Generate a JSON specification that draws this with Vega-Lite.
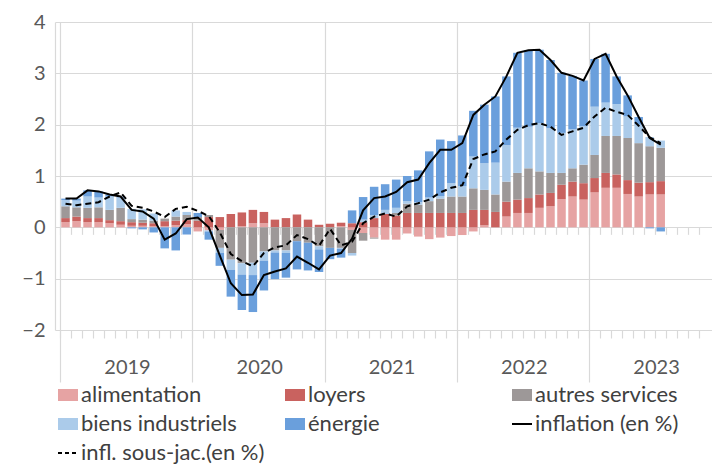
{
  "$schema": "https://vega.github.io/schema/vega-lite/v6.json",
  "width": 657,
  "height": 308,
  "autosize": "none",
  "padding": {"left": 55, "top": 22, "right": 0, "bottom": 137},
  "background": "white",
  "config": {
    "view": {"stroke": null},
    "font": "Lato",
    "axis": {"labelFont": "Lato", "labelColor": "#595959", "title": null}
  },
  "data": {
    "values": [
      {"mois": "2019-01", "i": 0, "alimentation": 0.10, "loyers": 0.08, "autres services": 0.23, "biens industriels": 0.12, "énergie": 0.03, "inflation": 0.56, "sous_jac": 0.46},
      {"mois": "2019-02", "i": 1, "alimentation": 0.12, "loyers": 0.09, "autres services": 0.18, "biens industriels": 0.13, "énergie": 0.04, "inflation": 0.56, "sous_jac": 0.43},
      {"mois": "2019-03", "i": 2, "alimentation": 0.10, "loyers": 0.08, "autres services": 0.20, "biens industriels": 0.22, "énergie": 0.12, "inflation": 0.72, "sous_jac": 0.46},
      {"mois": "2019-04", "i": 3, "alimentation": 0.10, "loyers": 0.08, "autres services": 0.21, "biens industriels": 0.19, "énergie": 0.12, "inflation": 0.70, "sous_jac": 0.49},
      {"mois": "2019-05", "i": 4, "alimentation": 0.08, "loyers": 0.06, "autres services": 0.20, "biens industriels": 0.26, "énergie": 0.04, "inflation": 0.64, "sous_jac": 0.60},
      {"mois": "2019-06", "i": 5, "alimentation": 0.05, "loyers": 0.07, "autres services": 0.26, "biens industriels": 0.20, "énergie": 0.02, "inflation": 0.60, "sous_jac": 0.68},
      {"mois": "2019-07", "i": 6, "alimentation": 0.03, "loyers": 0.07, "autres services": 0.06, "biens industriels": 0.20, "énergie": -0.02, "inflation": 0.34, "sous_jac": 0.42},
      {"mois": "2019-08", "i": 7, "alimentation": 0.03, "loyers": 0.06, "autres services": 0.06, "biens industriels": 0.20, "énergie": -0.04, "inflation": 0.31, "sous_jac": 0.38},
      {"mois": "2019-09", "i": 8, "alimentation": 0.02, "loyers": 0.06, "autres services": 0.05, "biens industriels": 0.14, "énergie": -0.10, "inflation": 0.17, "sous_jac": 0.31},
      {"mois": "2019-10", "i": 9, "alimentation": 0.02, "loyers": 0.10, "autres services": 0.05, "biens industriels": 0.00, "énergie": -0.41, "inflation": -0.24, "sous_jac": 0.20},
      {"mois": "2019-11", "i": 10, "alimentation": 0.04, "loyers": 0.09, "autres services": 0.08, "biens industriels": 0.12, "énergie": -0.45, "inflation": -0.12, "sous_jac": 0.36},
      {"mois": "2019-12", "i": 11, "alimentation": 0.06, "loyers": 0.08, "autres services": 0.10, "biens industriels": 0.06, "énergie": -0.14, "inflation": 0.16, "sous_jac": 0.40},
      {"mois": "2020-01", "i": 12, "alimentation": -0.08, "loyers": 0.13, "autres services": 0.07, "biens industriels": 0.00, "énergie": 0.08, "inflation": 0.19, "sous_jac": 0.32},
      {"mois": "2020-02", "i": 13, "alimentation": -0.06, "loyers": 0.20, "autres services": 0.04, "biens industriels": -0.02, "énergie": -0.16, "inflation": 0.00, "sous_jac": 0.22},
      {"mois": "2020-03", "i": 14, "alimentation": -0.05, "loyers": 0.20, "autres services": -0.35, "biens industriels": -0.10, "énergie": -0.25, "inflation": -0.55, "sous_jac": -0.10},
      {"mois": "2020-04", "i": 15, "alimentation": 0.00, "loyers": 0.26, "autres services": -0.63, "biens industriels": -0.20, "énergie": -0.52, "inflation": -1.09, "sous_jac": -0.52},
      {"mois": "2020-05", "i": 16, "alimentation": 0.02, "loyers": 0.27, "autres services": -0.70, "biens industriels": -0.22, "énergie": -0.69, "inflation": -1.32, "sous_jac": -0.66},
      {"mois": "2020-06", "i": 17, "alimentation": 0.08, "loyers": 0.26, "autres services": -0.69, "biens industriels": -0.24, "énergie": -0.72, "inflation": -1.31, "sous_jac": -0.76},
      {"mois": "2020-07", "i": 18, "alimentation": 0.08, "loyers": 0.22, "autres services": -0.47, "biens industriels": -0.18, "énergie": -0.58, "inflation": -0.93, "sous_jac": -0.50},
      {"mois": "2020-08", "i": 19, "alimentation": 0.00, "loyers": 0.15, "autres services": -0.45, "biens industriels": -0.04, "énergie": -0.52, "inflation": -0.86, "sous_jac": -0.39},
      {"mois": "2020-09", "i": 20, "alimentation": 0.00, "loyers": 0.18, "autres services": -0.45, "biens industriels": -0.05, "énergie": -0.48, "inflation": -0.80, "sous_jac": -0.35},
      {"mois": "2020-10", "i": 21, "alimentation": 0.00, "loyers": 0.25, "autres services": -0.27, "biens industriels": 0.00, "énergie": -0.55, "inflation": -0.57, "sous_jac": -0.15},
      {"mois": "2020-11", "i": 22, "alimentation": 0.00, "loyers": 0.15, "autres services": -0.30, "biens industriels": 0.00, "énergie": -0.54, "inflation": -0.69, "sous_jac": -0.23},
      {"mois": "2020-12", "i": 23, "alimentation": 0.00, "loyers": 0.05, "autres services": -0.37, "biens industriels": -0.06, "énergie": -0.44, "inflation": -0.82, "sous_jac": -0.36},
      {"mois": "2021-01", "i": 24, "alimentation": 0.00, "loyers": 0.07, "autres services": -0.40, "biens industriels": 0.00, "énergie": -0.22, "inflation": -0.55, "sous_jac": -0.03},
      {"mois": "2021-02", "i": 25, "alimentation": 0.02, "loyers": 0.07, "autres services": -0.40, "biens industriels": -0.02, "énergie": -0.17, "inflation": -0.50, "sous_jac": -0.35},
      {"mois": "2021-03", "i": 26, "alimentation": -0.05, "loyers": 0.08, "autres services": -0.45, "biens industriels": -0.05, "énergie": 0.25, "inflation": -0.22, "sous_jac": -0.28},
      {"mois": "2021-04", "i": 27, "alimentation": -0.11, "loyers": 0.10, "autres services": -0.15, "biens industriels": 0.05, "énergie": 0.44, "inflation": 0.33, "sous_jac": 0.08},
      {"mois": "2021-05", "i": 28, "alimentation": -0.20, "loyers": 0.18, "autres services": -0.02, "biens industriels": 0.06, "énergie": 0.55, "inflation": 0.57, "sous_jac": 0.21},
      {"mois": "2021-06", "i": 29, "alimentation": -0.24, "loyers": 0.26, "autres services": 0.00, "biens industriels": 0.08, "énergie": 0.50, "inflation": 0.60, "sous_jac": 0.27},
      {"mois": "2021-07", "i": 30, "alimentation": -0.24, "loyers": 0.23, "autres services": 0.05, "biens industriels": 0.10, "énergie": 0.55, "inflation": 0.69, "sous_jac": 0.21},
      {"mois": "2021-08", "i": 31, "alimentation": -0.12, "loyers": 0.28, "autres services": 0.18, "biens industriels": 0.05, "énergie": 0.49, "inflation": 0.88, "sous_jac": 0.41},
      {"mois": "2021-09", "i": 32, "alimentation": -0.18, "loyers": 0.28, "autres services": 0.16, "biens industriels": 0.05, "énergie": 0.62, "inflation": 0.93, "sous_jac": 0.47},
      {"mois": "2021-10", "i": 33, "alimentation": -0.23, "loyers": 0.28, "autres services": 0.23, "biens industriels": 0.07, "énergie": 0.90, "inflation": 1.25, "sous_jac": 0.54},
      {"mois": "2021-11", "i": 34, "alimentation": -0.20, "loyers": 0.28, "autres services": 0.28, "biens industriels": 0.05, "énergie": 1.10, "inflation": 1.51, "sous_jac": 0.68},
      {"mois": "2021-12", "i": 35, "alimentation": -0.17, "loyers": 0.28, "autres services": 0.32, "biens industriels": 0.26, "énergie": 0.82, "inflation": 1.51, "sous_jac": 0.77},
      {"mois": "2022-01", "i": 36, "alimentation": -0.15, "loyers": 0.28, "autres services": 0.32, "biens industriels": 0.20, "énergie": 0.99, "inflation": 1.64, "sous_jac": 0.82},
      {"mois": "2022-02", "i": 37, "alimentation": -0.08, "loyers": 0.34, "autres services": 0.42, "biens industriels": 0.62, "énergie": 0.89, "inflation": 2.19, "sous_jac": 1.33},
      {"mois": "2022-03", "i": 38, "alimentation": 0.04, "loyers": 0.30, "autres services": 0.39, "biens industriels": 0.52, "énergie": 1.14, "inflation": 2.39, "sous_jac": 1.42},
      {"mois": "2022-04", "i": 39, "alimentation": 0.00, "loyers": 0.30, "autres services": 0.34, "biens industriels": 0.62, "énergie": 1.29, "inflation": 2.55, "sous_jac": 1.48},
      {"mois": "2022-05", "i": 40, "alimentation": 0.21, "loyers": 0.29, "autres services": 0.39, "biens industriels": 0.71, "énergie": 1.34, "inflation": 2.94, "sous_jac": 1.71},
      {"mois": "2022-06", "i": 41, "alimentation": 0.28, "loyers": 0.26, "autres services": 0.52, "biens industriels": 0.88, "énergie": 1.46, "inflation": 3.40, "sous_jac": 1.90},
      {"mois": "2022-07", "i": 42, "alimentation": 0.28, "loyers": 0.29, "autres services": 0.58, "biens industriels": 0.81, "énergie": 1.49, "inflation": 3.45, "sous_jac": 1.99},
      {"mois": "2022-08", "i": 43, "alimentation": 0.38, "loyers": 0.26, "autres services": 0.45, "biens industriels": 0.94, "énergie": 1.43, "inflation": 3.46, "sous_jac": 2.03},
      {"mois": "2022-09", "i": 44, "alimentation": 0.41, "loyers": 0.26, "autres services": 0.39, "biens industriels": 0.87, "énergie": 1.33, "inflation": 3.26, "sous_jac": 1.96},
      {"mois": "2022-10", "i": 45, "alimentation": 0.55, "loyers": 0.28, "autres services": 0.23, "biens industriels": 0.78, "énergie": 1.17, "inflation": 3.01, "sous_jac": 1.80},
      {"mois": "2022-11", "i": 46, "alimentation": 0.60, "loyers": 0.29, "autres services": 0.26, "biens industriels": 0.76, "énergie": 1.04, "inflation": 2.95, "sous_jac": 1.87},
      {"mois": "2022-12", "i": 47, "alimentation": 0.54, "loyers": 0.32, "autres services": 0.36, "biens industriels": 0.75, "énergie": 0.89, "inflation": 2.86, "sous_jac": 1.94},
      {"mois": "2023-01", "i": 48, "alimentation": 0.68, "loyers": 0.28, "autres services": 0.45, "biens industriels": 0.94, "énergie": 0.93, "inflation": 3.28, "sous_jac": 2.16},
      {"mois": "2023-02", "i": 49, "alimentation": 0.77, "loyers": 0.29, "autres services": 0.72, "biens industriels": 0.65, "énergie": 0.95, "inflation": 3.38, "sous_jac": 2.33},
      {"mois": "2023-03", "i": 50, "alimentation": 0.77, "loyers": 0.26, "autres services": 0.75, "biens industriels": 0.62, "énergie": 0.54, "inflation": 2.94, "sous_jac": 2.25},
      {"mois": "2023-04", "i": 51, "alimentation": 0.65, "loyers": 0.27, "autres services": 0.82, "biens industriels": 0.42, "énergie": 0.41, "inflation": 2.57, "sous_jac": 2.19},
      {"mois": "2023-05", "i": 52, "alimentation": 0.60, "loyers": 0.27, "autres services": 0.77, "biens industriels": 0.36, "énergie": 0.15, "inflation": 2.15, "sous_jac": 1.98},
      {"mois": "2023-06", "i": 53, "alimentation": 0.64, "loyers": 0.24, "autres services": 0.70, "biens industriels": 0.18, "énergie": -0.02, "inflation": 1.74, "sous_jac": 1.75},
      {"mois": "2023-07", "i": 54, "alimentation": 0.64, "loyers": 0.26, "autres services": 0.65, "biens industriels": 0.14, "énergie": -0.08, "inflation": 1.61, "sous_jac": 1.64}
    ]
  },
  "layer": [
    {
      "transform": [
        {"fold": ["alimentation", "loyers", "autres services", "biens industriels", "énergie"], "as": ["cat", "val"]},
        {"window": [{"op": "row_number", "as": "rang"}], "groupby": ["i"]}
      ],
      "mark": {"type": "bar", "size": 8.5, "orient": "vertical"},
      "encoding": {
        "x": {
          "field": "i", "type": "quantitative",
          "scale": {"domain": [-0.5, 58.2], "nice": false, "zero": false},
          "axis": {
            "orient": "bottom",
            "values": [-0.5, 11.5, 23.5, 35.5, 47.5],
            "grid": true, "gridColor": "#d9d9d9", "gridWidth": 1.2,
            "domain": false,
            "ticks": true, "tickSize": 52, "tickColor": "#d9d9d9", "tickWidth": 1.2,
            "labelExpr": "datum.value < 0 ? '2019' : datum.value < 12 ? '2020' : datum.value < 24 ? '2021' : datum.value < 36 ? '2022' : '2023'",
            "labelOffset": 67, "labelPadding": -15, "labelBaseline": "middle", "labelAlign": "center",
            "labelFontSize": 20, "labelColor": "#595959",
            "labelOverlap": false, "labelBound": false, "labelFlush": false,
            "title": null
          }
        },
        "y": {
          "field": "val", "type": "quantitative", "stack": "zero",
          "scale": {"domain": [-2, 4], "nice": false},
          "axis": {
            "values": [-2, -1, 0, 1, 2, 3, 4],
            "grid": true, "gridColor": "#d9d9d9", "gridWidth": 1.2,
            "domain": true, "domainColor": "#d9d9d9", "domainWidth": 1.2,
            "ticks": false, "labelPadding": 10,
            "labelFontSize": 20, "labelColor": "#595959",
            "title": null
          }
        },
        "order": {"field": "rang", "type": "quantitative", "sort": "ascending"},
        "color": {
          "field": "cat", "type": "nominal",
          "scale": {
            "domain": ["alimentation", "loyers", "autres services", "biens industriels", "énergie", "inflation (en %)", "infl. sous-jac.(en %)"],
            "range": ["#e6a3a3", "#c9625f", "#9d9898", "#abcbea", "#6a9fdc", "#000000", "#000000"]
          },
          "legend": {
            "orient": "none", "legendX": 2, "legendY": 362,
            "direction": "horizontal", "columns": 3, "gridAlign": "all",
            "columnPadding": 16, "rowPadding": 7,
            "padding": 0, "offset": 0,
            "title": null,
            "symbolSize": 400, "symbolStrokeWidth": 2,
            "labelFont": "Lato", "labelFontSize": 22, "labelColor": "#404040", "labelOffset": 2, "labelLimit": 0,
            "encode": {
              "symbols": {
                "update": {
                  "shape": [
                    {"test": "datum.value === 'inflation (en %)' || datum.value === 'infl. sous-jac.(en %)'", "value": "stroke"},
                    {"value": "M-1,-0.6H1V0.6H-1Z"}
                  ],
                  "fill": [
                    {"test": "datum.value === 'inflation (en %)' || datum.value === 'infl. sous-jac.(en %)'", "value": "transparent"},
                    {"scale": "color", "field": "value"}
                  ],
                  "stroke": [
                    {"test": "datum.value === 'inflation (en %)' || datum.value === 'infl. sous-jac.(en %)'", "value": "#000000"},
                    {"value": "transparent"}
                  ],
                  "strokeWidth": {"value": 2},
                  "strokeDash": [
                    {"test": "datum.value === 'infl. sous-jac.(en %)'", "value": [4, 3]},
                    {"value": [1, 0]}
                  ],
                  "opacity": {"value": 1}
                }
              }
            }
          }
        }
      }
    },
    {
      "mark": {"type": "line", "color": "#000000", "strokeWidth": 2},
      "encoding": {
        "x": {
          "field": "i", "type": "quantitative",
          "scale": {"domain": [-0.5, 58.2], "nice": false, "zero": false},
          "axis": {
            "orient": "bottom",
            "values": [-0.5, 0.5, 1.5, 2.5, 3.5, 4.5, 5.5, 6.5, 7.5, 8.5, 9.5, 10.5, 11.5, 12.5, 13.5, 14.5, 15.5, 16.5, 17.5, 18.5, 19.5, 20.5, 21.5, 22.5, 23.5, 24.5, 25.5, 26.5, 27.5, 28.5, 29.5, 30.5, 31.5, 32.5, 33.5, 34.5, 35.5, 36.5, 37.5, 38.5, 39.5, 40.5, 41.5, 42.5, 43.5, 44.5, 45.5, 46.5, 47.5, 48.5, 49.5, 50.5, 51.5, 52.5, 53.5, 54.5, 55.5, 56.5, 57.5],
            "grid": false, "domain": false, "labels": false,
            "ticks": true, "tickSize": 8, "tickColor": "#d9d9d9", "tickWidth": 1.2,
            "title": null
          }
        },
        "y": {"field": "inflation", "type": "quantitative", "scale": {"domain": [-2, 4], "nice": false}}
      }
    },
    {
      "mark": {"type": "line", "color": "#000000", "strokeWidth": 2, "strokeDash": [6, 4]},
      "encoding": {
        "x": {
          "field": "i", "type": "quantitative",
          "scale": {"domain": [-0.5, 58.2], "nice": false, "zero": false},
          "axis": {
            "orient": "bottom", "offset": -102.67,
            "values": [-0.5, 0.5, 1.5, 2.5, 3.5, 4.5, 5.5, 6.5, 7.5, 8.5, 9.5, 10.5, 11.5, 12.5, 13.5, 14.5, 15.5, 16.5, 17.5, 18.5, 19.5, 20.5, 21.5, 22.5, 23.5, 24.5, 25.5, 26.5, 27.5, 28.5, 29.5, 30.5, 31.5, 32.5, 33.5, 34.5, 35.5, 36.5, 37.5, 38.5, 39.5, 40.5, 41.5, 42.5, 43.5, 44.5, 45.5, 46.5, 47.5, 48.5, 49.5, 50.5, 51.5, 52.5, 53.5, 54.5, 55.5, 56.5, 57.5],
            "grid": false, "domain": false, "labels": false,
            "ticks": true, "tickSize": 7, "tickColor": "#d9d9d9", "tickWidth": 1.2,
            "title": null
          }
        },
        "y": {"field": "sous_jac", "type": "quantitative", "scale": {"domain": [-2, 4], "nice": false}}
      }
    }
  ],
  "resolve": {"axis": {"x": "independent"}}
}
